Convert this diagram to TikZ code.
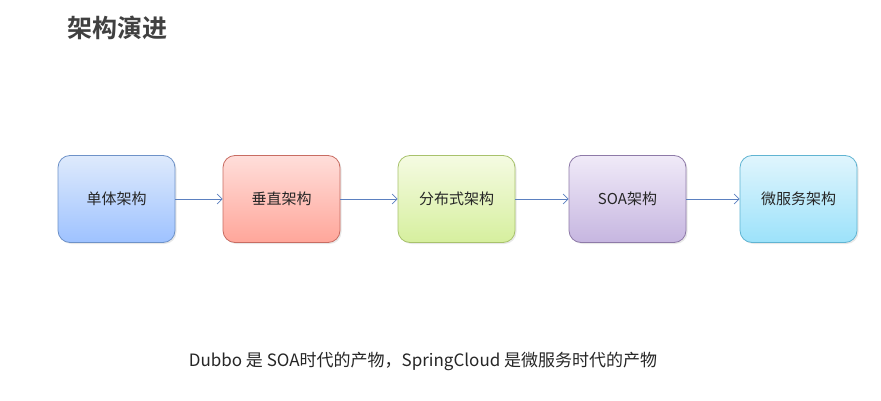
\documentclass[tikz,border=0pt]{standalone}
\usepackage{fontspec}
\setmainfont{Noto Sans CJK SC}
\newfontfamily\cjkbold{Noto Sans CJK SC Bold}
\usetikzlibrary{shadows,arrows.meta}
\definecolor{titlegray}{HTML}{404040}
\definecolor{arrowblue}{HTML}{5B80C0}
\definecolor{aTop}{RGB}{222,234,252}\definecolor{aBot}{RGB}{158,194,255}\definecolor{aLine}{RGB}{110,146,200}
\definecolor{bTop}{RGB}{255,222,218}\definecolor{bBot}{RGB}{255,166,154}\definecolor{bLine}{RGB}{200,108,98}
\definecolor{cTop}{RGB}{245,251,226}\definecolor{cBot}{RGB}{214,239,158}\definecolor{cLine}{RGB}{168,194,108}
\definecolor{dTop}{RGB}{240,234,248}\definecolor{dBot}{RGB}{198,182,224}\definecolor{dLine}{RGB}{142,122,168}
\definecolor{eTop}{RGB}{224,245,253}\definecolor{eBot}{RGB}{156,226,250}\definecolor{eLine}{RGB}{96,180,210}
\tikzset{
  archbox/.style={rounded corners=12pt, minimum width=117pt, minimum height=87pt,
    inner sep=0pt, font=\fontsize{15pt}{18pt}\selectfont, text=black!85,
    draw, line width=0.8pt, drop shadow={shadow xshift=1.5pt, shadow yshift=-1.5pt, opacity=0.18}},
  flow/.style={draw=arrowblue, line width=0.7pt, -{Straight Barb[length=5pt,width=10pt,line width=0.7pt]}}
}
\begin{document}
\begin{tikzpicture}[x=1pt,y=-1pt]
\useasboundingbox (0,0) rectangle (881,401);
\fill[white] (0,0) rectangle (881,401);
\node[font=\cjkbold\fontsize{25pt}{30pt}\selectfont, text=titlegray] (title) at (117,28) {架构演进};
\node[archbox, top color=aTop, bottom color=aBot, draw=aLine] (b1) at (116.5,199) {单体架构};
\node[archbox, top color=bTop, bottom color=bBot, draw=bLine] (b2) at (281.5,199) {垂直架构};
\node[archbox, top color=cTop, bottom color=cBot, draw=cLine] (b3) at (456.5,199) {分布式架构};
\node[archbox, top color=dTop, bottom color=dBot, draw=dLine] (b4) at (627.5,199) {SOA架构};
\node[archbox, top color=eTop, bottom color=eBot, draw=eLine] (b5) at (798.5,199) {微服务架构};
\draw[flow] (b1) -- (b2);
\draw[flow] (b2) -- (b3);
\draw[flow] (b3) -- (b4);
\draw[flow] (b4) -- (b5);
\node[font=\fontsize{17pt}{20pt}\selectfont, text=black!85] (note) at (423,361) {Dubbo 是 SOA时代的产物，SpringCloud 是微服务时代的产物};
\end{tikzpicture}
\end{document}
